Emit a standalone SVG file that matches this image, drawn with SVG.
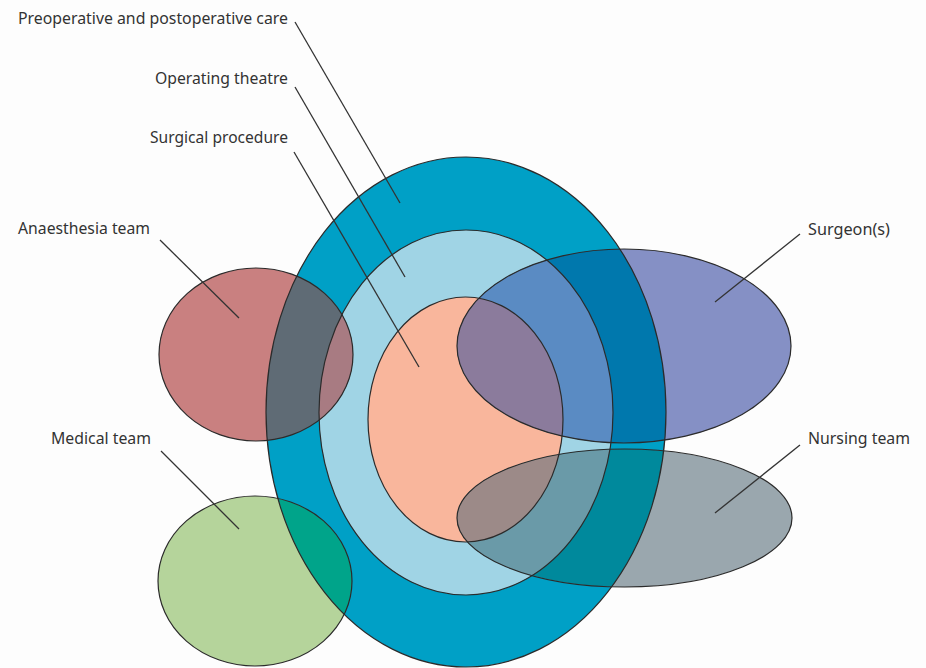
<svg xmlns="http://www.w3.org/2000/svg" xmlns:xlink="http://www.w3.org/1999/xlink" width="926" height="668" viewBox="0 0 926 668">
<style>
.ol{fill:none;stroke:#2b2b2b;stroke-width:1.2}
.lbl{font-family:"Noto Sans","Open Sans","DejaVu Sans",sans-serif;font-size:17px;fill:#333}
.ld{stroke:#333;stroke-width:1.3;fill:none}
</style>
<defs>
<ellipse id="eOuter" cx="466" cy="412" rx="200" ry="255"/>
<ellipse id="eTheatre" cx="466" cy="412.5" rx="147" ry="182.5"/>
<ellipse id="eProc" cx="465.5" cy="419.5" rx="97.5" ry="122.5"/>
<ellipse id="eAna" cx="256" cy="354.5" rx="97" ry="86.5"/>
<ellipse id="eMed" cx="255" cy="581" rx="97" ry="85"/>
<ellipse id="eSurg" cx="624" cy="346" rx="167" ry="97"/>
<ellipse id="eNurse" cx="624.5" cy="518" rx="167.5" ry="69"/>
<clipPath id="cpAna"><use href="#eAna"/></clipPath>
<clipPath id="cpMed"><use href="#eMed"/></clipPath>
<clipPath id="cpSurg"><use href="#eSurg"/></clipPath>
<clipPath id="cpNurse"><use href="#eNurse"/></clipPath>
</defs>
<rect width="926" height="668" fill="#fdfdfd"/>
<g id="fills">
<use href="#eOuter" fill="#00a0c6"/>
<use href="#eTheatre" fill="#a0d4e5"/>
<use href="#eProc" fill="#f9b69c"/>
<use href="#eAna" fill="#c98080"/>
<g clip-path="url(#cpAna)"><use href="#eOuter" fill="#5f6b75"/><use href="#eTheatre" fill="#a87b82"/></g>
<use href="#eMed" fill="#b5d49b"/>
<g clip-path="url(#cpMed)"><use href="#eOuter" fill="#00a48a"/></g>
<use href="#eSurg" fill="#8590c5"/>
<g clip-path="url(#cpSurg)"><use href="#eOuter" fill="#0078ad"/><use href="#eTheatre" fill="#5a8bc3"/><use href="#eProc" fill="#8b7b9c"/></g>
<use href="#eNurse" fill="#9aa7ae"/>
<g clip-path="url(#cpNurse)"><use href="#eOuter" fill="#00899c"/><use href="#eTheatre" fill="#6a9aa8"/><use href="#eProc" fill="#9c8a88"/></g>
</g>
<g id="node-preop"><use href="#eOuter" class="ol"/><text class="lbl" x="18" y="24" textLength="270" lengthAdjust="spacingAndGlyphs">Preoperative and postoperative care</text></g>
<g id="node-theatre"><use href="#eTheatre" class="ol"/><text class="lbl" x="155" y="84" textLength="133" lengthAdjust="spacingAndGlyphs">Operating theatre</text></g>
<g id="node-procedure"><use href="#eProc" class="ol"/><text class="lbl" x="150" y="143" textLength="138" lengthAdjust="spacingAndGlyphs">Surgical procedure</text></g>
<g id="node-anaesthesia"><use href="#eAna" class="ol"/><text class="lbl" x="18" y="234" textLength="132" lengthAdjust="spacingAndGlyphs">Anaesthesia team</text></g>
<g id="node-medical"><use href="#eMed" class="ol"/><text class="lbl" x="51" y="444" textLength="100" lengthAdjust="spacingAndGlyphs">Medical team</text></g>
<g id="node-surgeons"><use href="#eSurg" class="ol"/><text class="lbl" x="808" y="235" textLength="82" lengthAdjust="spacingAndGlyphs">Surgeon(s)</text></g>
<g id="node-nursing"><use href="#eNurse" class="ol"/><text class="lbl" x="808" y="444" textLength="102" lengthAdjust="spacingAndGlyphs">Nursing team</text></g>
<g id="connectors">
<line class="ld" x1="295" y1="22" x2="400" y2="203"/>
<line class="ld" x1="295" y1="87" x2="405" y2="277"/>
<line class="ld" x1="294" y1="152" x2="419" y2="367"/>
<line class="ld" x1="160" y1="240" x2="239" y2="318"/>
<line class="ld" x1="161" y1="451" x2="239" y2="529"/>
<line class="ld" x1="800" y1="234" x2="715" y2="302"/>
<line class="ld" x1="800" y1="445" x2="715" y2="513"/>
</g>
</svg>
